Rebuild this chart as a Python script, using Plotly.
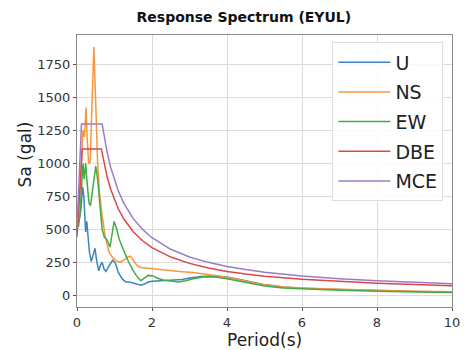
import plotly.graph_objects as go

# Response spectra of the EYUL record (three components) and the design spectra
period_u = [0, 0.05, 0.1, 0.15, 0.18, 0.2, 0.23, 0.26, 0.28, 0.33, 0.38, 0.43, 0.48, 0.53,
            0.58, 0.63, 0.67, 0.72, 0.77, 0.85, 0.95, 1.02, 1.1, 1.2, 1.3, 1.4, 1.5, 1.6,
            1.7, 1.8, 1.9, 2.0, 2.2, 2.4, 2.6, 2.8, 3.0, 3.3, 3.6, 4.0, 4.5, 5, 5.5, 6,
            7, 8, 9, 10]
sa_u = [540, 560, 640, 820, 760, 650, 480, 560, 470, 330, 255, 300, 355, 250,
        185, 230, 250, 200, 180, 220, 265, 245, 175, 125, 100, 100, 90, 80,
        75, 85, 100, 105, 108, 110, 112, 118, 130, 142, 145, 138, 110, 80, 62, 52,
        42, 34, 28, 24]

period_ns = [0, 0.04, 0.08, 0.12, 0.16, 0.2, 0.24, 0.27, 0.31, 0.35, 0.4, 0.45, 0.5, 0.55,
             0.6, 0.67, 0.75, 0.85, 0.95, 1.05, 1.15, 1.25, 1.35, 1.42, 1.5, 1.6, 1.7,
             1.85, 2.0, 2.2, 2.5, 2.8, 3.1, 3.4, 3.7, 4.0, 4.5, 5, 5.5, 6, 7, 8, 9, 10]
sa_ns = [560, 620, 800, 1050, 1250, 1200, 1424, 1200, 1000, 1010, 1400, 1884, 1450, 1000,
         780, 600, 450, 330, 285, 260, 250, 265, 290, 296, 265, 225, 210,
         205, 200, 195, 185, 178, 172, 160, 148, 135, 105, 78, 62, 54, 44, 36, 30, 26]

period_ew = [0, 0.04, 0.08, 0.12, 0.16, 0.19, 0.23, 0.27, 0.32, 0.36, 0.4, 0.45, 0.5, 0.55,
             0.6, 0.67, 0.73, 0.8, 0.88, 0.94, 0.99, 1.05, 1.12, 1.2, 1.3, 1.38, 1.48,
             1.58, 1.7, 1.8, 1.9, 2.0, 2.15, 2.3, 2.5, 2.7, 2.9, 3.1, 3.4, 3.7, 4.0, 4.5,
             5, 5.5, 6, 7, 8, 9, 10]
sa_ew = [540, 520, 620, 850, 1000, 880, 1000, 850, 700, 680, 760, 900, 980, 880,
         700, 500, 440, 420, 365, 470, 560, 510, 430, 370, 300, 250, 195,
         150, 110, 130, 150, 148, 128, 115, 105, 100, 110, 125, 140, 138, 125, 95,
         70, 55, 48, 38, 30, 25, 20]

period_dbe = [0, 0.14, 0.65, 0.7, 0.75, 0.8, 0.9, 1.0, 1.1, 1.25, 1.5, 1.75, 2, 2.5, 3,
              3.5, 4, 4.5, 5, 6, 7, 8, 9, 10]
sa_dbe = [444, 1110, 1110, 1031, 963, 902, 802, 722, 656, 578, 481, 413, 361, 289, 241,
          206, 180, 160, 144, 120, 103, 90, 80, 72]

period_mce = [0, 0.12, 0.67, 0.7, 0.75, 0.8, 0.9, 1.0, 1.1, 1.25, 1.5, 1.75, 2, 2.5, 3,
              3.5, 4, 4.5, 5, 6, 7, 8, 9, 10]
sa_mce = [520, 1300, 1300, 1244, 1161, 1089, 968, 871, 792, 697, 581, 498, 436, 348, 290,
          249, 218, 194, 174, 145, 124, 109, 97, 87]

x_ticks = [0, 2, 4, 6, 8, 10]
y_ticks = [0, 250, 500, 750, 1000, 1250, 1500, 1750]

series = [
    ("U", period_u, sa_u, "#3c86bd"),
    ("NS", period_ns, sa_ns, "#f7973a"),
    ("EW", period_ew, sa_ew, "#45aa45"),
    ("DBE", period_dbe, sa_dbe, "#d8484a"),
    ("MCE", period_mce, sa_mce, "#9d7bc4"),
]

fig = go.Figure()
for name, xs, ys, color in series:
    fig.add_trace(go.Scatter(
        x=xs, y=ys, mode="lines", name=name, legendgroup=name,
        line=dict(color=color, width=1.5),
    ))

font_family = "DejaVu Sans"
axis_common = dict(
    showgrid=True, gridcolor="#dcdcdc", gridwidth=1,
    showline=True, linecolor="#8a8a8a", linewidth=1, mirror=True,
    ticks="outside", ticklen=3, tickcolor="#555555",
    tickfont=dict(family=font_family, size=13, color="#333333"),
    zeroline=False,
)

fig.update_layout(
    width=469, height=350,
    margin=dict(l=77, r=9, t=35, b=43),
    paper_bgcolor="white", plot_bgcolor="white",
    title=dict(text="<b>Response Spectrum (EYUL)</b>", xref="container", x=0.52,
               xanchor="center", yref="container", y=0.951, yanchor="middle",
               font=dict(family=font_family, size=14, color="#111111")),
    xaxis=dict(range=[0, 10], tickvals=x_ticks, **axis_common),
    yaxis=dict(range=[-90, 1975], tickvals=y_ticks, **axis_common),
    legend=dict(x=0.977, xanchor="right", y=0.973, yanchor="top",
                bgcolor="rgba(255,255,255,0.85)", bordercolor="#dddddd", borderwidth=1,
                font=dict(family=font_family, size=19, color="#222222"),
                itemwidth=52, traceorder="grouped", tracegroupgap=2),
    showlegend=True,
    annotations=[
        dict(text="Period(s)", xref="paper", yref="paper", x=0.5, y=-33 / 272,
             xanchor="center", yanchor="middle", showarrow=False, borderpad=0,
             font=dict(family=font_family, size=17, color="#222222")),
        dict(text="Sa (gal)", xref="paper", yref="paper", x=-53 / 385,
             y=(307 - 154) / 272, xanchor="center", yanchor="middle",
             textangle=-90, showarrow=False,
             font=dict(family=font_family, size=17, color="#222222")),
    ],
)

fig.write_html("out.html")
